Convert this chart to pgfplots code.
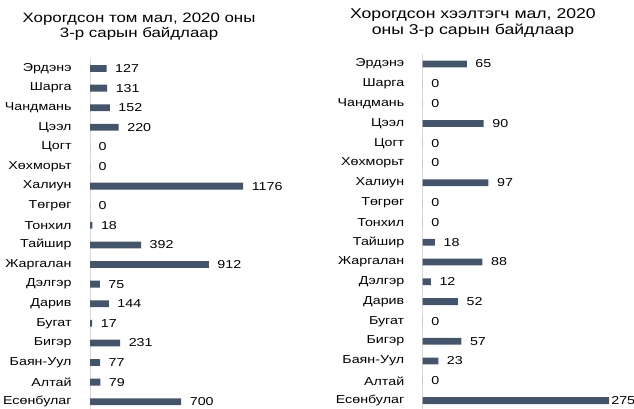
\documentclass[border=0pt]{standalone}
\usepackage{fontspec}
\setmainfont[FakeStretch=1.24]{Liberation Sans}
\usepackage{pgfplots}
\usepackage{pgfplotstable}
\pgfplotsset{compat=1.18}
\definecolor{barc}{HTML}{44546A}
\definecolor{axc}{HTML}{D9D9D9}

\pgfplotstableread{
idx name val sh
0 Эрдэнэ 127 8.5
1 Шарга 131 8.5
2 Чандмань 152 8.5
3 Цээл 220 8.5
4 Цогт 0 8.5
5 Хөхморьт 0 8.5
6 Халиун 1176 8.5
7 Төгрөг 0 8.5
8 Тонхил 18 8.5
9 Тайшир 392 8.5
10 Жаргалан 912 8.5
11 Дэлгэр 75 8.5
12 Дарив 144 8.5
13 Бугат 17 8.5
14 Бигэр 231 8.5
15 Баян-Уул 77 8.5
16 Алтай 79 8.5
17 Есөнбулаг 700 8.5
}\lefttab

\pgfplotstableread{
idx name val sh
0 Эрдэнэ 65 8.5
1 Шарга 0 8.5
2 Чандмань 0 8.5
3 Цээл 90 8.5
4 Цогт 0 8.5
5 Хөхморьт 0 8.5
6 Халиун 97 8.5
7 Төгрөг 0 8.5
8 Тонхил 0 8.5
9 Тайшир 18 8.5
10 Жаргалан 88 8.5
11 Дэлгэр 12 8.5
12 Дарив 52 8.5
13 Бугат 0 8.5
14 Бигэр 57 8.5
15 Баян-Уул 23 8.5
16 Алтай 0 8.5
17 Есөнбулаг 275 2
}\righttab

\pgfplotsset{
  panel/.style={
    xbar, scale only axis, y dir=reverse, ymin=-0.5, ymax=17.5, xmin=0,
    axis lines*=left,
    x axis line style={draw=none},
    y axis line style={draw=axc, line width=0.8bp},
    xtick=\empty, ytick=data, ytick style={draw=none},
    yticklabel style={font=\fontsize{11.5bp}{13bp}\selectfont, inner sep=0pt, xshift=-14bp, anchor=east},
    bar width=6.8bp,
    nodes near coords,
    visualization depends on={\thisrow{sh} \as \lblshift},
    nodes near coords style={font=\fontsize{11.5bp}{13bp}\selectfont, anchor=west, inner sep=0pt, xshift=\lblshift bp},
    /pgf/number format/1000 sep={},
    /pgf/number format/assume math mode=true,
    title style={align=center, anchor=center},
    clip=false,
  }
}

\begin{document}
\begin{tikzpicture}
\useasboundingbox (0,0) rectangle (634bp,409bp);
\clip (0,0) rectangle (634bp,409bp);
\begin{axis}[panel,
  at={(90bp,-2.5bp)}, anchor=south west,
  width=182.3bp, height=352.8bp, xmax=1400,
  yticklabels from table={\lefttab}{name},
  title={Хорогдсон том мал, 2020 оны\\3-р сарын байдлаар},
  title style={at={(0.269,1)}, yshift=26bp, font=\fontsize{13.6bp}{15.5bp}\selectfont},
]
\addplot[fill=barc, draw=none] table[x=val, y=idx] {\lefttab};
\end{axis}
\begin{axis}[panel,
  at={(422.7bp,-1.5bp)}, anchor=south west,
  width=210.2bp, height=356.4bp, xmax=310,
  yticklabels from table={\righttab}{name},
  title={Хорогдсон хээлтэгч мал, 2020\\оны 3-р сарын байдлаар},
  title style={at={(0.239,1)}, yshift=25bp, font=\fontsize{14.2bp}{16bp}\selectfont},
]
\addplot[fill=barc, draw=none] table[x=val, y=idx] {\righttab};
\end{axis}
\end{tikzpicture}
\end{document}
